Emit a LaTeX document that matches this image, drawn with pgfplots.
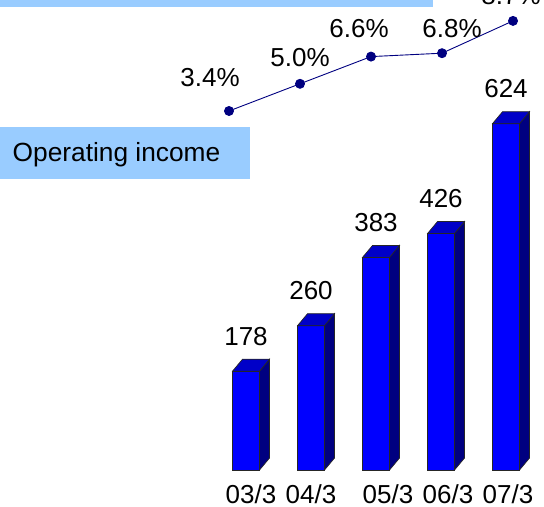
\documentclass[border=0pt]{standalone}
\usepackage{fontspec}
\setmainfont{Liberation Sans}
\usepackage{pgfplots}
\pgfplotsset{compat=1.18}
\usepackage{pgfplotstable}
\definecolor{boxblue}{HTML}{99CCFF}
\definecolor{frontblue}{HTML}{0000FF}
\definecolor{topblue}{HTML}{0000C8}
\definecolor{sideblue}{HTML}{000080}
\definecolor{linenavy}{HTML}{000080}

\pgfplotstableread{
x y
0 178
1 260
2 383
3 426
4 624
}\incometable

\pgfplotstableread{
x y dx dy
0 3.4 -19 33
1 5.0 0 26
2 6.6 -12 28
3 6.8 10 25
4 8.7 -2 25
}\margintable

\begin{document}
\begin{tikzpicture}[x=1bp,y=1bp]
\path[use as bounding box] (0,0) rectangle (544,507);
\clip (0,0) rectangle (544,507);
\fill[boxblue] (0,500) rectangle (433,507);
\fill[boxblue] (0,328) rectangle (250,380);
\node[anchor=base west, inner sep=0pt, font=\fontsize{26.3bp}{30bp}\selectfont] at (12.5,345) {Operating income};

% bars: x unit 65bp, y unit 0.555bp
\begin{axis}[
  at={(213.5bp,37bp)}, anchor=south west,
  scale only axis, width=325bp, height=388.5bp,
  xmin=-0.5, xmax=4.5, ymin=0, ymax=700,
  axis y line=none, axis x line*=bottom,
  x axis line style={draw=none}, xtick style={draw=none},
  xtick={0.077,1.0,2.185,3.108,4.031},
  xticklabels={03/3,04/3,05/3,06/3,07/3},
  xticklabel style={anchor=base, inner sep=0pt, yshift=-33.5bp, font=\fontsize{26bp}{30bp}\selectfont},
  clip=false,
  /pgf/number format/assume math mode=true,
]
\addplot[ybar, bar width=27bp, bar shift=0pt, fill=frontblue, draw=black!85, line width=0.7bp,
  nodes near coords, every node near coord/.append style={anchor=base, inner sep=0pt, yshift=26bp, font=\fontsize{26bp}{30bp}\selectfont, text=black}]
  table[x=x,y=y] {\incometable};
% side faces (dx = 0.1538, dy = 21.6)
\addplot[fill=sideblue, draw=black!85, line width=0.7bp] coordinates {(0.2077,0) (0.3615,21.6) (0.3615,199.6) (0.2077,178)} --cycle;
\addplot[fill=sideblue, draw=black!85, line width=0.7bp] coordinates {(1.2077,0) (1.3615,21.6) (1.3615,281.6) (1.2077,260)} --cycle;
\addplot[fill=sideblue, draw=black!85, line width=0.7bp] coordinates {(2.2077,0) (2.3615,21.6) (2.3615,404.6) (2.2077,383)} --cycle;
\addplot[fill=sideblue, draw=black!85, line width=0.7bp] coordinates {(3.2077,0) (3.3615,21.6) (3.3615,447.6) (3.2077,426)} --cycle;
\addplot[fill=sideblue, draw=black!85, line width=0.7bp] coordinates {(4.2077,0) (4.3615,21.6) (4.3615,645.6) (4.2077,624)} --cycle;
% top faces
\addplot[fill=topblue, draw=black!85, line width=0.7bp] coordinates {(-0.2077,178) (0.2077,178) (0.3615,199.6) (-0.0539,199.6)} --cycle;
\addplot[fill=topblue, draw=black!85, line width=0.7bp] coordinates {(0.7923,260) (1.2077,260) (1.3615,281.6) (0.9461,281.6)} --cycle;
\addplot[fill=topblue, draw=black!85, line width=0.7bp] coordinates {(1.7923,383) (2.2077,383) (2.3615,404.6) (1.9461,404.6)} --cycle;
\addplot[fill=topblue, draw=black!85, line width=0.7bp] coordinates {(2.7923,426) (3.2077,426) (3.3615,447.6) (2.9461,447.6)} --cycle;
\addplot[fill=topblue, draw=black!85, line width=0.7bp] coordinates {(3.7923,624) (4.2077,624) (4.3615,645.6) (3.9461,645.6)} --cycle;
\end{axis}

% margin line: x unit 71bp, y unit 17bp
\begin{axis}[
  at={(229bp,389.2bp)}, anchor=south west,
  scale only axis, width=284bp, height=102bp,
  xmin=0, xmax=4, ymin=3, ymax=9,
  axis lines=none, clip=false,
  /pgf/number format/assume math mode=true,
]
\addplot[color=linenavy, line width=0.9bp, mark=*, mark size=4.5bp, mark options={fill=linenavy, draw=linenavy},
  visualization depends on={\thisrow{dx}\as\labdx},
  visualization depends on={\thisrow{dy}\as\labdy},
  nodes near coords={\pgfmathprintnumber[fixed,fixed zerofill,precision=1]{\pgfplotspointmeta}\%},
  every node near coord/.append style={anchor=center, inner sep=0pt, xshift=\labdx bp, yshift=\labdy bp, font=\fontsize{26bp}{30bp}\selectfont, text=black}]
  table[x=x,y=y] {\margintable};
\end{axis}
\end{tikzpicture}
\end{document}
